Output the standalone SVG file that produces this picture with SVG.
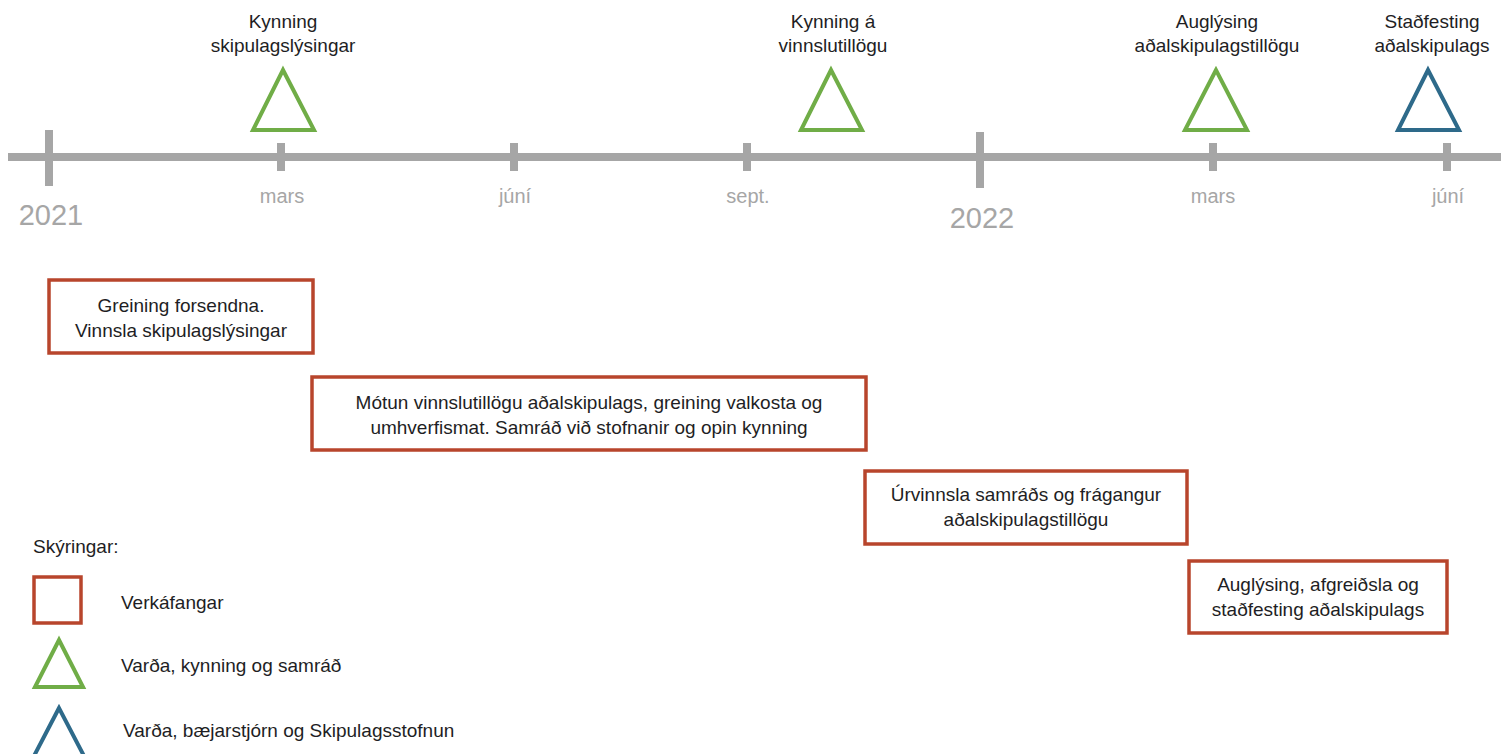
<svg xmlns="http://www.w3.org/2000/svg" width="1501" height="754" viewBox="0 0 1501 754">
<style>
.axis{stroke:#a6a6a6;stroke-width:8;fill:none}
.lbl{font-family:"Liberation Sans",Arial,sans-serif;font-size:19px;fill:#1e1e24;text-anchor:middle}
.leg{font-family:"Liberation Sans",Arial,sans-serif;font-size:19px;fill:#1e1e24}
.month{font-family:"Liberation Sans",Arial,sans-serif;font-size:20px;fill:#a6a6a6;text-anchor:middle}
.year{font-family:"Liberation Sans",Arial,sans-serif;font-size:29px;fill:#a6a6a6;text-anchor:middle}
.box{fill:#fff;stroke:#b8452c;stroke-width:3.5}
.tg{fill:none;stroke:#70ad47;stroke-width:4}
.tb{fill:none;stroke:#2e6a8a;stroke-width:4}
</style>
<rect width="1501" height="754" fill="#fff"/>
<g id="timeline">
<line class="axis" x1="8" y1="157" x2="1501" y2="157"/>
<line class="axis" x1="49" y1="130" x2="49" y2="186"/>
<line class="axis" x1="980" y1="132" x2="980" y2="188"/>
<line class="axis" x1="281" y1="143" x2="281" y2="171"/>
<line class="axis" x1="514" y1="143" x2="514" y2="171"/>
<line class="axis" x1="747" y1="143" x2="747" y2="171"/>
<line class="axis" x1="1213" y1="143" x2="1213" y2="171"/>
<line class="axis" x1="1447" y1="143" x2="1447" y2="171"/>
<text class="year" x="51" y="225">2021</text>
<text class="year" x="982" y="228">2022</text>
<text class="month" x="282" y="203">mars</text>
<text class="month" x="515" y="203">júní</text>
<text class="month" x="748" y="203">sept.</text>
<text class="month" x="1213" y="203">mars</text>
<text class="month" x="1448" y="203">júní</text>
</g>
<g id="m1">
<polygon class="tg" points="283,70 253,130 314,130"/>
<text class="lbl" x="283" y="28">Kynning</text>
<text class="lbl" x="283" y="52">skipulagslýsingar</text>
</g>
<g id="m2">
<polygon class="tg" points="831,70 801,130 862,130"/>
<text class="lbl" x="833" y="28">Kynning á</text>
<text class="lbl" x="833" y="52">vinnslutillögu</text>
</g>
<g id="m3">
<polygon class="tg" points="1216,70 1185,130 1247,130"/>
<text class="lbl" x="1217" y="28">Auglýsing</text>
<text class="lbl" x="1217" y="52">aðalskipulagstillögu</text>
</g>
<g id="m4">
<polygon class="tb" points="1428,70 1398,130 1459,130"/>
<text class="lbl" x="1432" y="28">Staðfesting</text>
<text class="lbl" x="1432" y="52">aðalskipulags</text>
</g>
<g id="t1">
<rect class="box" x="49" y="280" width="264" height="73"/>
<text class="lbl" x="181" y="312">Greining forsendna.</text>
<text class="lbl" x="181" y="337">Vinnsla skipulagslýsingar</text>
</g>
<g id="t2">
<rect class="box" x="312" y="377" width="554" height="73"/>
<text class="lbl" x="589" y="409" font-size="19.8">Mótun vinnslutillögu aðalskipulags, greining valkosta og</text>
<text class="lbl" x="589" y="434" font-size="19.8">umhverfismat. Samráð við stofnanir og opin kynning</text>
</g>
<g id="t3">
<rect class="box" x="865" y="471" width="322" height="73"/>
<text class="lbl" x="1026" y="501">Úrvinnsla samráðs og frágangur</text>
<text class="lbl" x="1026" y="526">aðalskipulagstillögu</text>
</g>
<g id="t4">
<rect class="box" x="1189" y="561" width="258" height="72"/>
<text class="lbl" x="1318" y="591">Auglýsing, afgreiðsla og</text>
<text class="lbl" x="1318" y="616">staðfesting aðalskipulags</text>
</g>
<g id="legend">
<text class="leg" x="33" y="553" font-size="20">Skýringar:</text>
<rect class="box" x="34" y="577" width="47" height="46" stroke-width="4"/>
<text class="leg" x="121" y="609">Verkáfangar</text>
<polygon class="tg" points="59,640 35,687 83,687"/>
<text class="leg" x="121" y="672">Varða, kynning og samráð</text>
<polygon class="tb" points="59,708 34,756 84,756"/>
<text class="leg" x="123" y="737">Varða, bæjarstjórn og Skipulagsstofnun</text>
</g>
</svg>
